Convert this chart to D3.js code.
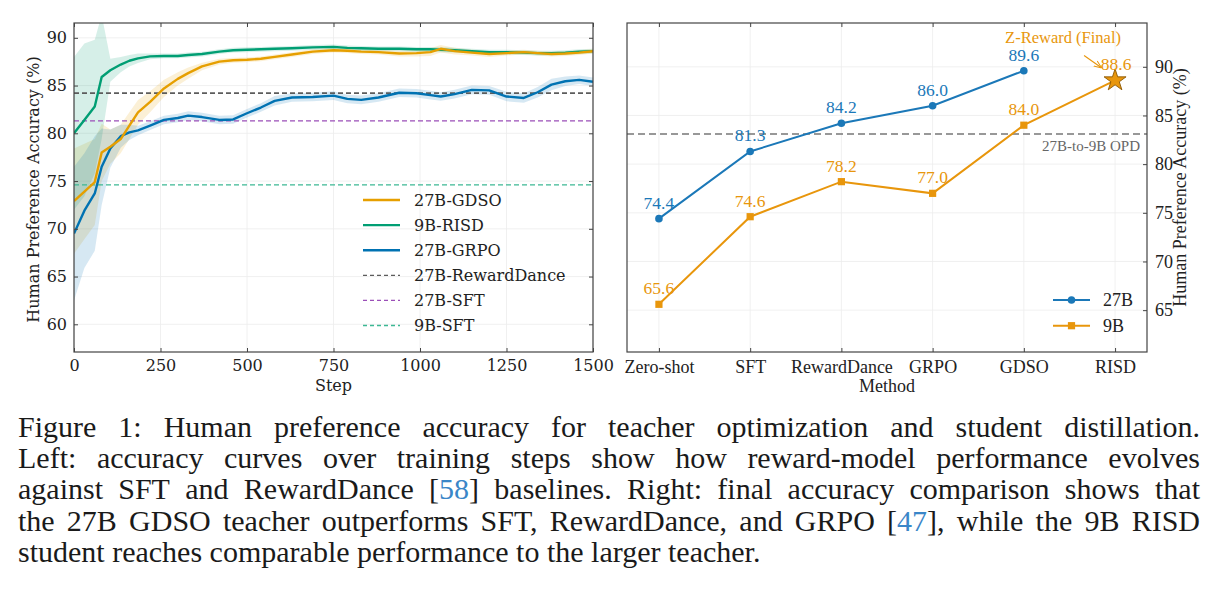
<!DOCTYPE html>
<html>
<head>
<meta charset="utf-8">
<script src="https://cdn.jsdelivr.net/npm/d3@7"></script>
<style>
  body { margin: 0; background: #fff; }
  svg { display: block; }
</style>
</head>
<body>
<div id="root"></div>
<script>
// ---- left panel data ----
const steps = [0, 30, 60, 80, 105, 135, 160, 185, 220, 260, 300, 330, 370, 420, 460, 500, 540, 580, 630, 690,
               750, 790, 830, 880, 940, 990, 1030, 1060, 1100, 1150, 1200, 1250, 1300, 1340, 1380, 1420, 1460, 1500];
const gdso = [72.9, 73.9, 74.9, 78.0, 78.6, 79.4, 80.8, 82.2, 83.3, 84.7, 85.7, 86.3, 87.0, 87.5, 87.65, 87.7, 87.8, 88.0, 88.25, 88.55,
              88.7, 88.65, 88.55, 88.5, 88.35, 88.4, 88.5, 88.85, 88.6, 88.45, 88.3, 88.4, 88.5, 88.4, 88.3, 88.35, 88.45, 88.6];
const gdsoSpread = [5.5, 5, 4.5, 3, 1.8, 1.5, 1.4, 1.3, 1.1, 0.9, 0.7, 0.6, 0.4, 0.3, 0.25, 0.25, 0.25, 0.25, 0.25, 0.25,
                    0.25, 0.25, 0.25, 0.25, 0.3, 0.35, 0.4, 0.4, 0.35, 0.3, 0.3, 0.25, 0.25, 0.25, 0.25, 0.25, 0.25, 0.25];
const risd = [80.0, 81.4, 82.8, 85.9, 86.6, 87.2, 87.6, 87.85, 88.05, 88.1, 88.1, 88.2, 88.3, 88.55, 88.7, 88.75, 88.8, 88.85, 88.9, 89.0,
              89.05, 88.95, 88.9, 88.85, 88.85, 88.8, 88.8, 88.75, 88.7, 88.6, 88.5, 88.5, 88.45, 88.4, 88.4, 88.45, 88.55, 88.6];
const risdSpread = [8, 8, 7, 6.5, 1.2, 0.8, 0.6, 0.5, 0.3, 0.25, 0.25, 0.25, 0.25, 0.25, 0.25, 0.25, 0.25, 0.25, 0.25, 0.25,
                    0.25, 0.25, 0.25, 0.25, 0.25, 0.25, 0.25, 0.25, 0.25, 0.25, 0.25, 0.25, 0.25, 0.25, 0.25, 0.25, 0.25, 0.25];
const grpo = [69.5, 71.9, 73.7, 76.5, 78.4, 79.7, 80.1, 80.3, 80.8, 81.4, 81.6, 81.85, 81.7, 81.4, 81.45, 82.1, 82.7, 83.4, 83.75, 83.8,
              83.95, 83.6, 83.5, 83.75, 84.25, 84.2, 84.0, 83.85, 84.1, 84.55, 84.5, 83.85, 83.7, 84.3, 85.1, 85.45, 85.6, 85.4];
const grpoSpread = [7, 6, 6, 4, 2, 1.2, 0.8, 0.5, 0.45, 0.45, 0.45, 0.45, 0.45, 0.45, 0.45, 0.45, 0.45, 0.5, 0.45, 0.45,
                    0.45, 0.45, 0.45, 0.45, 0.45, 0.45, 0.45, 0.45, 0.45, 0.45, 0.45, 0.5, 0.5, 0.55, 0.6, 0.5, 0.45, 0.45];
const curveNames = ['27B-GDSO', '9B-RISD', '27B-GRPO'];
const refNames = ['27B-RewardDance', '27B-SFT', '9B-SFT'];
const refValues = [84.2, 81.3, 74.6];
const stepTicks = [0, 250, 500, 750, 1000, 1250, 1500];
const leftAccTicks = [60, 65, 70, 75, 80, 85, 90];

// ---- right panel data ----
const methods = ['Zero-shot', 'SFT', 'RewardDance', 'GRPO', 'GDSO', 'RISD'];
const acc27B = [74.4, 81.3, 84.2, 86.0, 89.6];
const acc9B = [65.6, 74.6, 78.2, 77.0, 84.0, 88.6];
const opdValue = 83.1;
const rightAccTicks = [65, 70, 75, 80, 85, 90];

const captionLines = [
    'Figure 1: Human preference accuracy for teacher optimization and student distillation.',
    'Left: accuracy curves over training steps show how reward-model performance evolves',
    'against SFT and RewardDance [58] baselines. Right: final accuracy comparison shows that',
    'the 27B GDSO teacher outperforms SFT, RewardDance, and GRPO [47], while the 9B RISD',
    'student reaches comparable performance to the larger teacher.'
];

const W = 1219, H = 594;
const svg = d3.select('#root').append('svg').attr('width', W).attr('height', H);

const curveColors = ['#E69F00', '#009E73', '#0072B2'];
const refColors = ['#5c5c5c', '#9b4fb8', '#3cb894'];
const gridColor = '#ececec';
const spineColor = '#444';
const leftFont = 'DejaVu Serif';
const rightFont = 'Liberation Serif';

// ================= LEFT PANEL =================
const L = { left: 74, right: 593, top: 23, bottom: 352 };
const xL = d3.scaleLinear().domain([0, 1500]).range([L.left, L.right]);
const yL = d3.scaleLinear().domain([57.1, 91.55]).range([L.bottom, L.top]);

const left = svg.append('g');
svg.append('clipPath').attr('id', 'clipL')
    .append('rect').attr('x', L.left).attr('y', L.top)
    .attr('width', L.right - L.left).attr('height', L.bottom - L.top);

// grid
left.selectAll('.gx').data(stepTicks).enter().append('line')
    .attr('x1', d => xL(d)).attr('x2', d => xL(d))
    .attr('y1', L.top).attr('y2', L.bottom)
    .attr('stroke', gridColor).attr('stroke-width', 0.8);
left.selectAll('.gy').data(leftAccTicks).enter().append('line')
    .attr('y1', d => yL(d)).attr('y2', d => yL(d))
    .attr('x1', L.left).attr('x2', L.right)
    .attr('stroke', gridColor).attr('stroke-width', 0.8);

const plotL = left.append('g').attr('clip-path', 'url(#clipL)');

const series = [
    { vals: gdso, spread: gdsoSpread },
    { vals: risd, spread: risdSpread },
    { vals: grpo, spread: grpoSpread }
];

// shaded bands first
series.forEach((s, i) => {
    const area = d3.area()
        .x((d, j) => xL(steps[j]))
        .y0((d, j) => yL(d - s.spread[j]))
        .y1((d, j) => yL(d + s.spread[j]));
    plotL.append('path').datum(s.vals)
        .attr('d', area)
        .attr('fill', curveColors[i])
        .attr('fill-opacity', 0.16);
});

// reference lines
refValues.forEach((v, i) => {
    plotL.append('line')
        .attr('x1', L.left).attr('x2', L.right)
        .attr('y1', yL(v)).attr('y2', yL(v))
        .attr('stroke', refColors[i])
        .attr('stroke-width', i === 0 ? 1.7 : 1.4)
        .attr('stroke-dasharray', '5,3');
});

// curves, drawn in reverse so orange sits on top early on
[2, 1, 0].forEach(i => {
    const line = d3.line()
        .x((d, j) => xL(steps[j]))
        .y(d => yL(d));
    plotL.append('path').datum(series[i].vals)
        .attr('d', line)
        .attr('fill', 'none')
        .attr('stroke', curveColors[i])
        .attr('stroke-width', 2.4)
        .attr('stroke-linejoin', 'round');
});

// axes (inward ticks on all four sides)
const styleAxis = (g, font, size) => {
    g.select('.domain').remove();
    g.selectAll('.tick line').attr('stroke', spineColor);
    g.selectAll('.tick text').attr('fill', '#222')
        .attr('font-family', font).attr('font-size', size);
};
left.append('g').attr('transform', `translate(0,${L.bottom})`)
    .call(d3.axisBottom(xL).tickValues(stepTicks).tickFormat(d3.format('d')).tickSize(-4).tickPadding(8))
    .call(g => styleAxis(g, leftFont, 16));
left.append('g').attr('transform', `translate(0,${L.top})`)
    .call(d3.axisTop(xL).tickValues(stepTicks).tickSize(-4).tickFormat(''))
    .call(g => styleAxis(g, leftFont, 16));
left.append('g').attr('transform', `translate(${L.left},0)`)
    .call(d3.axisLeft(yL).tickValues(leftAccTicks).tickSize(-4).tickPadding(7))
    .call(g => styleAxis(g, leftFont, 16));
left.append('g').attr('transform', `translate(${L.right},0)`)
    .call(d3.axisRight(yL).tickValues(leftAccTicks).tickSize(-4).tickFormat(''))
    .call(g => styleAxis(g, leftFont, 16));

left.append('rect')
    .attr('x', L.left).attr('y', L.top)
    .attr('width', L.right - L.left).attr('height', L.bottom - L.top)
    .attr('fill', 'none').attr('stroke', spineColor).attr('stroke-width', 1.2);

left.append('text')
    .text('Step')
    .attr('x', (L.left + L.right) / 2).attr('y', 391)
    .attr('text-anchor', 'middle')
    .attr('font-family', leftFont).attr('font-size', 16).attr('fill', '#222');
left.append('text')
    .text('Human Preference Accuracy (%)')
    .attr('text-anchor', 'middle')
    .attr('transform', `translate(39,${(L.top + L.bottom) / 2 + 2}) rotate(-90)`)
    .attr('font-family', leftFont).attr('font-size', 16).attr('fill', '#222');

// legend
const legL = left.append('g').attr('transform', 'translate(363,200)');
const legItems = curveNames.map((n, i) => ({ name: n, color: curveColors[i], dash: null }))
    .concat(refNames.map((n, i) => ({ name: n, color: refColors[i], dash: '4,3' })));
legItems.forEach((d, i) => {
    const row = legL.append('g').attr('transform', `translate(0,${i * 25.1})`);
    row.append('line')
        .attr('x1', 0).attr('x2', 37).attr('y1', 0).attr('y2', 0)
        .attr('stroke', d.color)
        .attr('stroke-width', d.dash ? 1.3 : 2.4)
        .attr('stroke-dasharray', d.dash);
    row.append('text')
        .text(d.name)
        .attr('x', 51).attr('y', 5.5)
        .attr('font-family', leftFont).attr('font-size', 16).attr('fill', '#222');
});

// ================= RIGHT PANEL =================
const R = { left: 627, right: 1147, top: 23, bottom: 352 };
const xR = d3.scalePoint().domain(methods).range([R.left, R.right]).padding(0.35);
const yR = d3.scaleLinear().domain([60.7, 94.5]).range([R.bottom, R.top]);
const blue = '#1b78b8';
const orange = '#e8960c';

const right = svg.append('g');
right.selectAll('.gx').data(methods).enter().append('line')
    .attr('x1', d => xR(d)).attr('x2', d => xR(d))
    .attr('y1', R.top).attr('y2', R.bottom)
    .attr('stroke', gridColor).attr('stroke-width', 0.8);
right.selectAll('.gy').data(rightAccTicks).enter().append('line')
    .attr('y1', d => yR(d)).attr('y2', d => yR(d))
    .attr('x1', R.left).attr('x2', R.right)
    .attr('stroke', gridColor).attr('stroke-width', 0.8);

// OPD reference
right.append('line')
    .attr('x1', R.left).attr('x2', R.right)
    .attr('y1', yR(opdValue)).attr('y2', yR(opdValue))
    .attr('stroke', '#777').attr('stroke-width', 1.5)
    .attr('stroke-dasharray', '7,4');
right.append('text')
    .text('27B-to-9B OPD')
    .attr('x', R.right - 7).attr('y', yR(opdValue) + 17)
    .attr('text-anchor', 'end')
    .attr('font-family', rightFont).attr('font-size', 15).attr('fill', '#666');

const lineR = d3.line().x(d => xR(d.m)).y(d => yR(d.v));
const pts27 = acc27B.map((v, i) => ({ m: methods[i], v }));
const pts9 = acc9B.map((v, i) => ({ m: methods[i], v }));

right.append('path').datum(pts9).attr('d', lineR)
    .attr('fill', 'none').attr('stroke', orange).attr('stroke-width', 2);
right.append('path').datum(pts27).attr('d', lineR)
    .attr('fill', 'none').attr('stroke', blue).attr('stroke-width', 2);

right.selectAll('.p27').data(pts27).enter().append('circle')
    .attr('cx', d => xR(d.m)).attr('cy', d => yR(d.v)).attr('r', 3.8)
    .attr('fill', blue);
right.selectAll('.p9').data(pts9.slice(0, -1)).enter().append('path')
    .attr('d', d3.symbol(d3.symbolSquare, 52))
    .attr('transform', d => `translate(${xR(d.m)},${yR(d.v)})`)
    .attr('fill', orange);
const last9 = pts9[pts9.length - 1];
right.append('path')
    .attr('d', d3.symbol(d3.symbolStar, 150))
    .attr('transform', `translate(${xR(last9.m)},${yR(last9.v)})`)
    .attr('fill', orange).attr('stroke', '#8a5600').attr('stroke-width', 0.9);

// value labels
right.selectAll('.l27').data(pts27).enter().append('text')
    .text(d => d.v.toFixed(1))
    .attr('x', d => xR(d.m)).attr('y', d => yR(d.v) - 10)
    .attr('text-anchor', 'middle')
    .attr('font-family', rightFont).attr('font-size', 17.5).attr('fill', blue);
right.selectAll('.l9').data(pts9).enter().append('text')
    .text(d => d.v.toFixed(1))
    .attr('x', d => xR(d.m) + (d === last9 ? 1 : 0)).attr('y', d => yR(d.v) - 10)
    .attr('text-anchor', 'middle')
    .attr('font-family', rightFont).attr('font-size', 17.5).attr('fill', orange);

// annotation
const sx = xR(last9.m), sy = yR(last9.v);
svg.append('defs').append('marker')
    .attr('id', 'arrow').attr('viewBox', '0 0 10 10')
    .attr('refX', 9).attr('refY', 5)
    .attr('markerWidth', 7).attr('markerHeight', 7)
    .attr('orient', 'auto')
    .append('path').attr('d', 'M0,1 L10,5 L0,9').attr('fill', 'none')
    .attr('stroke', orange).attr('stroke-width', 1.3);
right.append('line')
    .attr('x1', sx - 31).attr('y1', sy - 25)
    .attr('x2', sx - 14).attr('y2', sy - 13)
    .attr('stroke', orange).attr('stroke-width', 1.1)
    .attr('marker-end', 'url(#arrow)');
right.append('text')
    .text('Z-Reward (Final)')
    .attr('x', sx - 52).attr('y', sy - 37.5)
    .attr('text-anchor', 'middle')
    .attr('font-family', rightFont).attr('font-size', 16.5).attr('fill', orange);

// axes
right.append('g').attr('transform', `translate(0,${R.bottom})`)
    .call(d3.axisBottom(xR).tickSize(-4).tickPadding(8))
    .call(g => styleAxis(g, rightFont, 18));
right.append('g').attr('transform', `translate(0,${R.top})`)
    .call(d3.axisTop(xR).tickSize(-4).tickFormat(''))
    .call(g => styleAxis(g, rightFont, 18));
right.append('g').attr('transform', `translate(${R.right},0)`)
    .call(d3.axisRight(yR).tickValues(rightAccTicks).tickSize(-4).tickPadding(8))
    .call(g => styleAxis(g, rightFont, 18));
right.append('rect')
    .attr('x', R.left).attr('y', R.top)
    .attr('width', R.right - R.left).attr('height', R.bottom - R.top)
    .attr('fill', 'none').attr('stroke', spineColor).attr('stroke-width', 1.2);

right.append('text')
    .text('Method')
    .attr('x', (R.left + R.right) / 2).attr('y', 392)
    .attr('text-anchor', 'middle')
    .attr('font-family', rightFont).attr('font-size', 18).attr('fill', '#222');
right.append('text')
    .text('Human Preference Accuracy (%)')
    .attr('text-anchor', 'middle')
    .attr('transform', `translate(1186,${(R.top + R.bottom) / 2}) rotate(-90)`)
    .attr('font-family', rightFont).attr('font-size', 18).attr('fill', '#222');

// legend
const legR = right.append('g').attr('transform', 'translate(1053,300)');
[{ name: '27B', color: blue, shape: d3.symbolCircle, size: 45 },
 { name: '9B', color: orange, shape: d3.symbolSquare, size: 52 }].forEach((d, i) => {
    const row = legR.append('g').attr('transform', `translate(0,${i * 25.7})`);
    row.append('line').attr('x1', 0).attr('x2', 37)
        .attr('stroke', d.color).attr('stroke-width', 2);
    row.append('path').attr('d', d3.symbol(d.shape, d.size))
        .attr('transform', 'translate(18.5,0)').attr('fill', d.color);
    row.append('text').text(d.name)
        .attr('x', 50).attr('y', 6)
        .attr('font-family', rightFont).attr('font-size', 18).attr('fill', '#222');
});

// ================= CAPTION =================
const cap = svg.append('g');
const capFont = 30, capLeft = 18, capRight = 1200, capTop = 437, capStep = 31.2;
captionLines.forEach((lineText, li) => {
    const words = lineText.split(' ');
    const y = capTop + li * capStep;
    const nodes = words.map(w => {
        const t = cap.append('text')
            .attr('y', y)
            .attr('font-family', rightFont).attr('font-size', capFont).attr('fill', '#1a1a1a');
        // citation numbers are blue, brackets stay black
        const m = w.match(/^\[(\d+)\](.*)$/);
        if (m) {
            t.append('tspan').text('[');
            t.append('tspan').text(m[1]).attr('fill', '#3a86c8');
            t.append('tspan').text(']' + m[2]);
        } else {
            t.text(w);
        }
        return t;
    });
    const widths = nodes.map(n => n.node().getComputedTextLength());
    const total = d3.sum(widths);
    const isLast = li === captionLines.length - 1;
    const gap = isLast ? capFont * 0.25 : (capRight - capLeft - total) / (words.length - 1);
    let x = capLeft;
    nodes.forEach((n, i) => {
        n.attr('x', x);
        x += widths[i] + gap;
    });
});
</script>
</body>
</html>
